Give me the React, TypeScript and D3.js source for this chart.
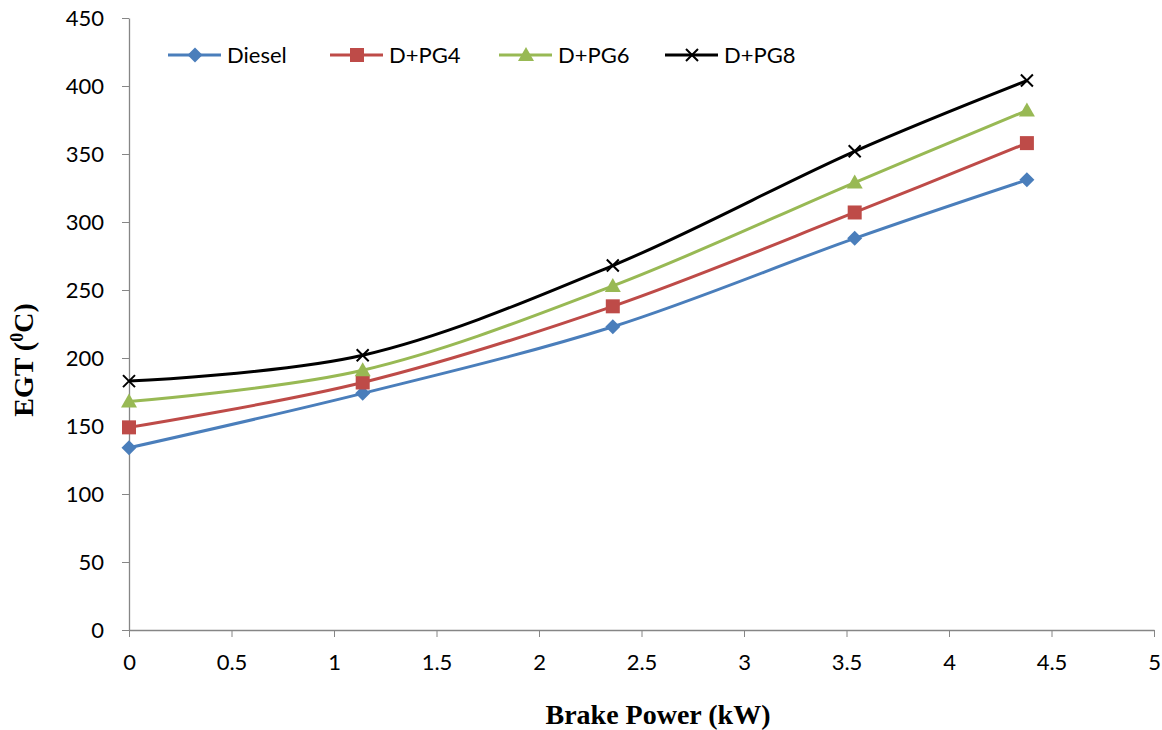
import React, { useEffect, useRef } from 'react';
import * as d3 from 'd3';

// brake power (kW) at each load step
const power = [0, 1.14, 2.36, 3.54, 4.38];

// exhaust gas temperature (deg C) per fuel blend
const diesel = [134, 174, 223, 288, 331];
const dpg4 = [149, 182, 238, 307, 358];
const dpg6 = [168, 191, 253, 329, 382];
const dpg8 = [183, 202, 268, 352, 404];

const seriesNames = ['Diesel', 'D+PG4', 'D+PG6', 'D+PG8'];
const seriesColors = ['#4A7EBB', '#BE4B48', '#98B954', '#000000'];
const seriesMarkers = ['diamond', 'square', 'triangle', 'cross'];

const xTicks = [0, 0.5, 1, 1.5, 2, 2.5, 3, 3.5, 4, 4.5, 5];
const yTicks = [0, 50, 100, 150, 200, 250, 300, 350, 400, 450];

const W = 1162;
const H = 730;

const drawMarker = (g, kind, color, cx, cy) => {
  if (kind === 'diamond') {
    g.append('path')
      .attr('d', `M${cx},${cy - 7.5}L${cx + 7.5},${cy}L${cx},${cy + 7.5}L${cx - 7.5},${cy}Z`)
      .attr('fill', color);
  } else if (kind === 'square') {
    g.append('rect')
      .attr('x', cx - 7).attr('y', cy - 7)
      .attr('width', 14).attr('height', 14)
      .attr('fill', color);
  } else if (kind === 'triangle') {
    g.append('path')
      .attr('d', `M${cx},${cy - 8}L${cx + 8},${cy + 6}L${cx - 8},${cy + 6}Z`)
      .attr('fill', color);
  } else {
    g.append('path')
      .attr('d', `M${cx - 6},${cy - 6}L${cx + 6},${cy + 6}M${cx - 6},${cy + 6}L${cx + 6},${cy - 6}`)
      .attr('stroke', color)
      .attr('stroke-width', 2)
      .attr('fill', 'none');
  }
};

const draw = (node) => {
  const svg = d3.select(node);
  svg.selectAll('*').remove();

  const x = d3.scaleLinear().domain([0, 5]).range([129, 1154]);
  const y = d3.scaleLinear().domain([0, 450]).range([630, 18]);

  const axisColor = '#868686';
  const tickFont = 'Lato, "Open Sans", sans-serif';

  // x axis
  const xAxis = svg.append('g')
    .attr('transform', `translate(0,${y(0)})`)
    .call(d3.axisBottom(x).tickValues(xTicks).tickSize(7).tickSizeOuter(0).tickFormat(d3.format('')));
  xAxis.select('.domain').attr('stroke', axisColor).attr('stroke-width', 1.3);
  xAxis.selectAll('.tick line').attr('stroke', axisColor);
  xAxis.selectAll('.tick text')
    .attr('fill', '#000')
    .attr('font-family', tickFont)
    .attr('font-size', 22)
    .attr('dy', '1.35em');

  // y axis
  const yAxis = svg.append('g')
    .attr('transform', `translate(${x(0)},0)`)
    .call(d3.axisLeft(y).tickValues(yTicks).tickSize(7).tickSizeOuter(0));
  yAxis.select('.domain').attr('stroke', axisColor).attr('stroke-width', 1.3);
  yAxis.selectAll('.tick line').attr('stroke', axisColor);
  yAxis.selectAll('.tick text')
    .attr('fill', '#000')
    .attr('font-family', tickFont)
    .attr('font-size', 22)
    .attr('x', -25);

  const seriesData = [diesel, dpg4, dpg6, dpg8];

  const line = d3.line()
    .x((d) => x(d[0]))
    .y((d) => y(d[1]))
    .curve(d3.curveCatmullRom.alpha(0.5));

  seriesData.forEach((vals, i) => {
    const pts = power.map((p, j) => [p, vals[j]]);
    svg.append('path')
      .datum(pts)
      .attr('fill', 'none')
      .attr('stroke', seriesColors[i])
      .attr('stroke-width', 3)
      .attr('d', line);
  });

  seriesData.forEach((vals, i) => {
    const g = svg.append('g');
    power.forEach((p, j) => drawMarker(g, seriesMarkers[i], seriesColors[i], x(p), y(vals[j])));
  });

  // legend
  const legendX = [168, 330, 499, 665];
  const legendY = 55;
  seriesNames.forEach((name, i) => {
    const g = svg.append('g');
    g.append('line')
      .attr('x1', legendX[i]).attr('x2', legendX[i] + 53)
      .attr('y1', legendY).attr('y2', legendY)
      .attr('stroke', seriesColors[i])
      .attr('stroke-width', 3);
    drawMarker(g, seriesMarkers[i], seriesColors[i], legendX[i] + 27, legendY);
    g.append('text')
      .attr('x', legendX[i] + 59)
      .attr('y', legendY)
      .attr('dy', '0.36em')
      .attr('font-family', tickFont)
      .attr('font-size', 22)
      .text(name);
  });

  // axis titles
  svg.append('text')
    .attr('x', 658)
    .attr('y', 724)
    .attr('text-anchor', 'middle')
    .attr('font-family', '"Liberation Serif", serif')
    .attr('font-weight', 'bold')
    .attr('font-size', 28)
    .text('Brake Power (kW)');

  const yt = svg.append('text')
    .attr('transform', `translate(33,360) rotate(-90)`)
    .attr('text-anchor', 'middle')
    .attr('font-family', '"Liberation Serif", serif')
    .attr('font-weight', 'bold')
    .attr('font-size', 28);
  yt.append('tspan').text('EGT (');
  yt.append('tspan').attr('font-size', 18).attr('dy', -10).text('0');
  yt.append('tspan').attr('dy', 10).text('C)');
};

const App = () => {
  const ref = useRef(null);
  useEffect(() => {
    draw(ref.current);
  }, []);
  return (
    <svg
      ref={ref}
      width={W}
      height={H}
      style={{ position: 'absolute', left: 0, top: 0, background: '#fff' }}
    />
  );
};

export default App;
